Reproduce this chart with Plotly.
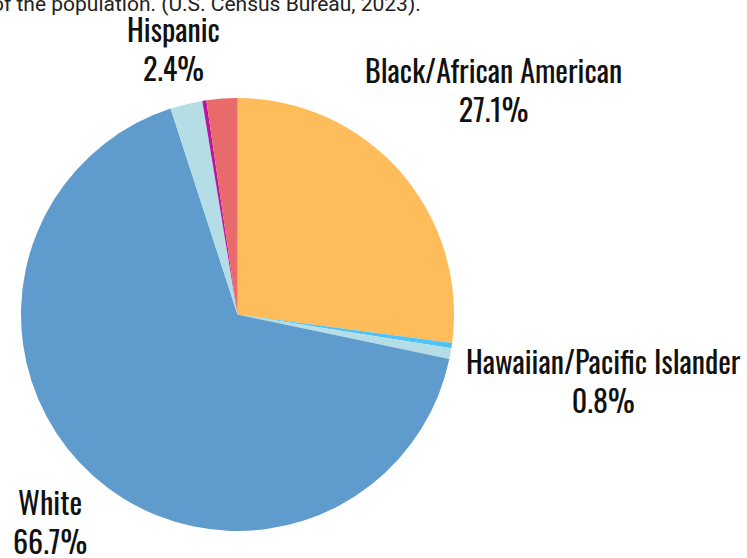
import math
import plotly.graph_objects as go

# ---- data ----
labels = ["Black/African American", "Asian", "Hawaiian/Pacific Islander", "White",
          "Hispanic", "American Indian/Alaska Native", "Two or More Races"]
values = [27.1, 0.4, 0.8, 66.7, 2.4, 0.3, 2.3]
colors = ["#FFBC5A", "#4FC3F7", "#B4DDE6", "#5F9BCD", "#B4DDE6", "#B5179E", "#E96A6A"]

# ---- layout parameters ----
W, H = 747, 558
CX, CY, R = 237.5, 314.5, 216.5          # pie centre / radius in pixels
label_dist = {"Black/African American": 1.569, "Hawaiian/Pacific Islander": 1.721,
              "White": 1.295, "Hispanic": 1.259}
LABEL_FONT = dict(family="Oswald, 'Roboto Condensed', 'Noto Sans Condensed', 'DejaVu Sans Condensed', sans-serif",
                  size=30, color="#111111")

fig = go.Figure(go.Pie(
    labels=labels, values=values, textinfo="none",
    sort=False, direction="clockwise", rotation=0,
    marker=dict(colors=colors, line=dict(width=0)),
    showlegend=False, hoverinfo="label+percent",
    domain=dict(x=[(CX - R) / W, (CX + R) / W],
                y=[(H - CY - R) / H, (H - CY + R) / H]),
))

total = sum(values)
cum = 0.0
for lab, val in zip(labels, values):
    mid = (cum + val / 2) / total * 2 * math.pi
    cum += val
    if lab not in label_dist:
        continue
    d = label_dist[lab] * R
    px = CX + d * math.sin(mid)
    py = CY - d * math.cos(mid)
    fig.add_annotation(text=f"{lab}<br>{val / total * 100:.1f}%",
                       x=px / W, y=1 - py / H, xref="paper", yref="paper",
                       xanchor="center", yanchor="middle", yshift=2, align="center",
                       showarrow=False, font=LABEL_FONT)

fig.add_annotation(
    text="Racial and ethnic composition of residents, shown as a share<br>of the population. (U.S. Census Bureau, 2023).",
    xref="paper", yref="paper", x=-0.014, y=1.0, xanchor="left", yanchor="bottom",
    yshift=-18, align="left", showarrow=False,
    font=dict(family="Roboto", size=21, color="#222222"),
)

fig.update_layout(
    width=W, height=H, margin=dict(l=0, r=0, t=0, b=0),
    paper_bgcolor="white", plot_bgcolor="white",
)
fig.write_html("out.html")
